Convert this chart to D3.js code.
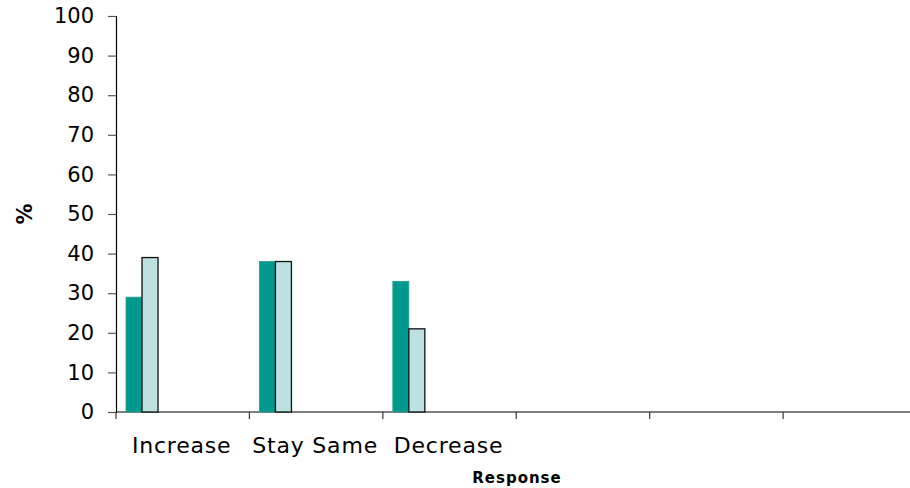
<!DOCTYPE html>
<html>
<head>
<meta charset="utf-8">
<script src="https://cdn.jsdelivr.net/npm/d3@7"></script>
<style>
  html, body { margin: 0; padding: 0; background: #fff; }
  svg { display: block; }
</style>
</head>
<body>
<svg id="chart" width="910" height="488"></svg>
<script>
// Response categories (the last three slots are empty)
const categories = ["Increase", "Stay Same", "Decrease", "", " ", "  "];
const seriesA = [29, 38, 33, null, null, null];
const seriesB = [39, 38, 21, null, null, null];
const yTicks = [0, 10, 20, 30, 40, 50, 60, 70, 80, 90, 100];

const svg = d3.select("#chart");
const margin = { left: 116, top: 16 };
const W = 910;
const font = "DejaVu Sans, Verdana, sans-serif";

const x = d3.scaleBand().domain(categories).range([margin.left, 916.5]).paddingInner(0).paddingOuter(0);
const y = d3.scaleLinear().domain([0, 100]).range([412, margin.top]);

const barW = x.bandwidth() * 0.12;
const offset = x.bandwidth() * 0.075;

// Y axis
const yAxis = svg.append("g")
  .attr("transform", `translate(${margin.left},0)`)
  .call(d3.axisLeft(y).tickValues(yTicks).tickSize(8).tickPadding(14));
yAxis.select(".domain").attr("stroke", "#000").attr("stroke-width", 1.2);
yAxis.selectAll(".tick line").attr("stroke", "#555").attr("stroke-width", 1.2);
yAxis.selectAll(".tick text").attr("font-family", font).attr("font-size", 21).attr("fill", "#000");

// X axis with ticks at slot boundaries
const boundaries = categories.map(c => x(c)).concat([x(categories[categories.length - 1]) + x.bandwidth()]);
const xg = svg.append("g");
xg.append("line")
  .attr("x1", margin.left).attr("x2", W)
  .attr("y1", y(0)).attr("y2", y(0))
  .attr("stroke", "#000").attr("stroke-width", 1.2);
xg.selectAll("line.tick").data(boundaries).join("line")
  .attr("class", "tick")
  .attr("x1", d => d).attr("x2", d => d)
  .attr("y1", y(0)).attr("y2", y(0) + 7)
  .attr("stroke", "#333").attr("stroke-width", 1.2);
xg.selectAll("text.cat").data(categories.filter(c => c.trim() !== "")).join("text")
  .attr("class", "cat")
  .attr("x", d => x(d) + x.bandwidth() / 2 - 1)
  .attr("y", 453)
  .attr("text-anchor", "middle")
  .attr("font-family", font).attr("font-size", 22)
  .attr("letter-spacing", 0.8)
  .text(d => d);

// Bars
const barsA = categories.map((c, i) => ({ c, v: seriesA[i] })).filter(d => d.v != null);
const barsB = categories.map((c, i) => ({ c, v: seriesB[i] })).filter(d => d.v != null);

svg.append("g").selectAll("rect").data(barsA).join("rect")
  .attr("x", d => x(d.c) + offset)
  .attr("y", d => y(d.v))
  .attr("width", barW)
  .attr("height", d => y(0) - y(d.v))
  .attr("fill", "#009990")
  .attr("stroke", "#2f9f80").attr("stroke-width", 0.8);

svg.append("g").selectAll("rect").data(barsB).join("rect")
  .attr("x", d => x(d.c) + offset + barW)
  .attr("y", d => y(d.v))
  .attr("width", barW)
  .attr("height", d => y(0) - y(d.v))
  .attr("fill", "#bde0e3")
  .attr("stroke", "#111").attr("stroke-width", 1.3);

// Axis titles
svg.append("text")
  .attr("x", 517)
  .attr("y", 483)
  .attr("text-anchor", "middle")
  .attr("font-family", font)
  .attr("font-weight", "bold").attr("font-size", 15)
  .attr("letter-spacing", 1)
  .text("Response");

svg.append("text")
  .attr("transform", `translate(32,${y(50)}) rotate(-90)`)
  .attr("text-anchor", "middle")
  .attr("font-family", font)
  .attr("font-weight", "bold").attr("font-size", 21)
  .text("%");
</script>
</body>
</html>
